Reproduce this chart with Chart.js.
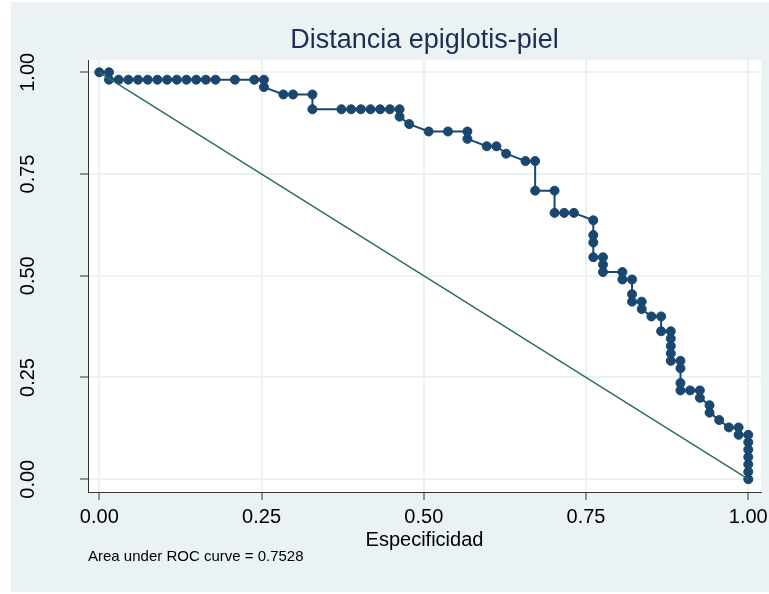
<!DOCTYPE html>
<html lang="es">
<head>
<meta charset="UTF-8">
<title>Distancia epiglotis-piel</title>
<script src="https://cdn.jsdelivr.net/npm/chart.js"></script>
<style>
  body { margin: 0; background: #fff; }
  canvas { display: block; }
</style>
</head>
<body>
<canvas id="rocChart" width="769" height="594"></canvas>
<script>
// puntos de corte de la curva ROC
const especificidad = [
  0, 0.0149, 0.0149,
  0.0299, 0.0448, 0.0597, 0.0746, 0.0896, 0.1045, 0.1194, 0.1343, 0.1493, 0.1642, 0.1791,
  0.2090, 0.2388, 0.2537, 0.2537,
  0.2836, 0.2985, 0.3284, 0.3284,
  0.3731, 0.3881, 0.4030, 0.4179, 0.4328, 0.4478, 0.4627,
  0.4627, 0.4776, 0.5075, 0.5373, 0.5672, 0.5672,
  0.5970, 0.6119, 0.6269, 0.6567, 0.6716, 0.6716,
  0.7015, 0.7015, 0.7164, 0.7313,
  0.7612, 0.7612, 0.7612, 0.7612,
  0.7761, 0.7761, 0.7761,
  0.8060, 0.8060,
  0.8209, 0.8209, 0.8209,
  0.8358, 0.8358,
  0.8507, 0.8657, 0.8657,
  0.8806, 0.8806, 0.8806, 0.8806, 0.8806,
  0.8955, 0.8955, 0.8955, 0.8955,
  0.9104, 0.9254, 0.9254,
  0.9403, 0.9403,
  0.9552, 0.9701, 0.9851, 0.9851,
  1, 1, 1, 1, 1, 1, 1
];
const sensibilidad = [
  1, 1, 0.9818,
  0.9818, 0.9818, 0.9818, 0.9818, 0.9818, 0.9818, 0.9818, 0.9818, 0.9818, 0.9818, 0.9818,
  0.9818, 0.9818, 0.9818, 0.9636,
  0.9455, 0.9455, 0.9455, 0.9091,
  0.9091, 0.9091, 0.9091, 0.9091, 0.9091, 0.9091, 0.9091,
  0.8909, 0.8727, 0.8545, 0.8545, 0.8545, 0.8364,
  0.8182, 0.8182, 0.8, 0.7818, 0.7818, 0.7091,
  0.7091, 0.6545, 0.6545, 0.6545,
  0.6364, 0.6, 0.5818, 0.5455,
  0.5455, 0.5273, 0.5091,
  0.5091, 0.4909,
  0.4909, 0.4545, 0.4364,
  0.4364, 0.4182,
  0.4, 0.4, 0.3636,
  0.3636, 0.3455, 0.3273, 0.3091, 0.2909,
  0.2909, 0.2727, 0.2364, 0.2182,
  0.2182, 0.2182, 0.2,
  0.1818, 0.1636,
  0.1455, 0.1273, 0.1273, 0.1091,
  0.1091, 0.0909, 0.0727, 0.0545, 0.0364, 0.0182, 0
];
// linea de referencia
const refX = [0, 1];
const refY = [1, 0];
const marcas = [0, 0.25, 0.5, 0.75, 1];

const fuente = "'Liberation Sans', Arial, sans-serif";
const fondoColor = '#eaf2f3';

// fondo exterior gris azulado y area de trazado blanca
const fondo = {
  id: 'fondo',
  beforeDraw(chart) {
    const { ctx, chartArea: a } = chart;
    ctx.save();
    ctx.fillStyle = '#fff';
    ctx.fillRect(0, 0, chart.width, chart.height);
    ctx.fillStyle = fondoColor;
    ctx.fillRect(11, 2, chart.width - 11, 590);
    ctx.fillStyle = '#fff';
    ctx.fillRect(a.left, a.top, a.right - a.left, a.bottom - a.top);
    ctx.restore();
  }
};

function fijarMarcas(scale) {
  scale.ticks = marcas.map(v => ({ value: v }));
}

const ctx = document.getElementById('rocChart').getContext('2d');
new Chart(ctx, {
  type: 'scatter',
  data: {
    datasets: [
      {
        label: 'Referencia',
        data: refX.map((x, i) => ({ x, y: refY[i] })),
        showLine: true,
        borderColor: '#2e6e5e',
        borderWidth: 1.5,
        pointRadius: 0
      },
      {
        label: 'ROC',
        data: especificidad.map((x, i) => ({ x, y: sensibilidad[i] })),
        showLine: true,
        borderColor: '#1a476f',
        borderWidth: 2,
        pointRadius: 4.5,
        pointBorderWidth: 1,
        pointBackgroundColor: '#1a476f',
        pointBorderColor: '#1a476f'
      }
    ]
  },
  options: {
    responsive: false,
    animation: false,
    devicePixelRatio: 1,
    layout: { padding: { top: 0, left: 0, right: 8, bottom: 0 } },
    plugins: {
      legend: { display: false },
      tooltip: { enabled: false },
      title: {
        display: true,
        text: 'Distancia epiglotis-piel',
        fullSize: false,
        color: '#1e2d54',
        font: { family: fuente, size: 27, weight: 'normal', lineHeight: 1.2 },
        padding: { top: 24.4, bottom: 3.2 }
      },
      subtitle: {
        display: true,
        text: 'Area under ROC curve = 0.7528',
        position: 'bottom',
        align: 'start',
        fullSize: false,
        color: '#000',
        font: { family: fuente, size: 15, lineHeight: 1.2 },
        padding: { top: 0, bottom: 28 }
      }
    },
    scales: {
      x: {
        type: 'linear',
        min: -0.0174,
        max: 1.0196,
        afterBuildTicks: fijarMarcas,
        afterFit(s) { s.height = 56; s.paddingLeft = 0; s.paddingRight = 0; },
        grid: { color: fondoColor, lineWidth: 2, tickColor: '#333', tickWidth: 1, tickLength: 8 },
        border: { color: '#333', width: 1 },
        ticks: {
          color: '#000',
          font: { family: fuente, size: 20, lineHeight: 1 },
          padding: 7,
          maxRotation: 0,
          callback: v => v.toFixed(2)
        },
        title: {
          display: true,
          text: 'Especificidad',
          color: '#000',
          font: { family: fuente, size: 20, lineHeight: 1 },
          padding: { top: 0, bottom: -2 }
        }
      },
      y: {
        type: 'linear',
        min: -0.0314,
        max: 1.0302,
        afterBuildTicks: fijarMarcas,
        afterFit(s) { s.width = 88; s.paddingTop = 0; s.paddingBottom = 0; },
        grid: { color: fondoColor, lineWidth: 2, tickColor: '#333', tickWidth: 1, tickLength: 8 },
        border: { color: '#333', width: 1 },
        ticks: {
          color: '#000',
          font: { family: fuente, size: 20, lineHeight: 1 },
          padding: 32.5,
          minRotation: 90,
          maxRotation: 90,
          crossAlign: 'center',
          callback: v => v.toFixed(2)
        }
      }
    }
  },
  plugins: [fondo]
});
</script>
</body>
</html>
